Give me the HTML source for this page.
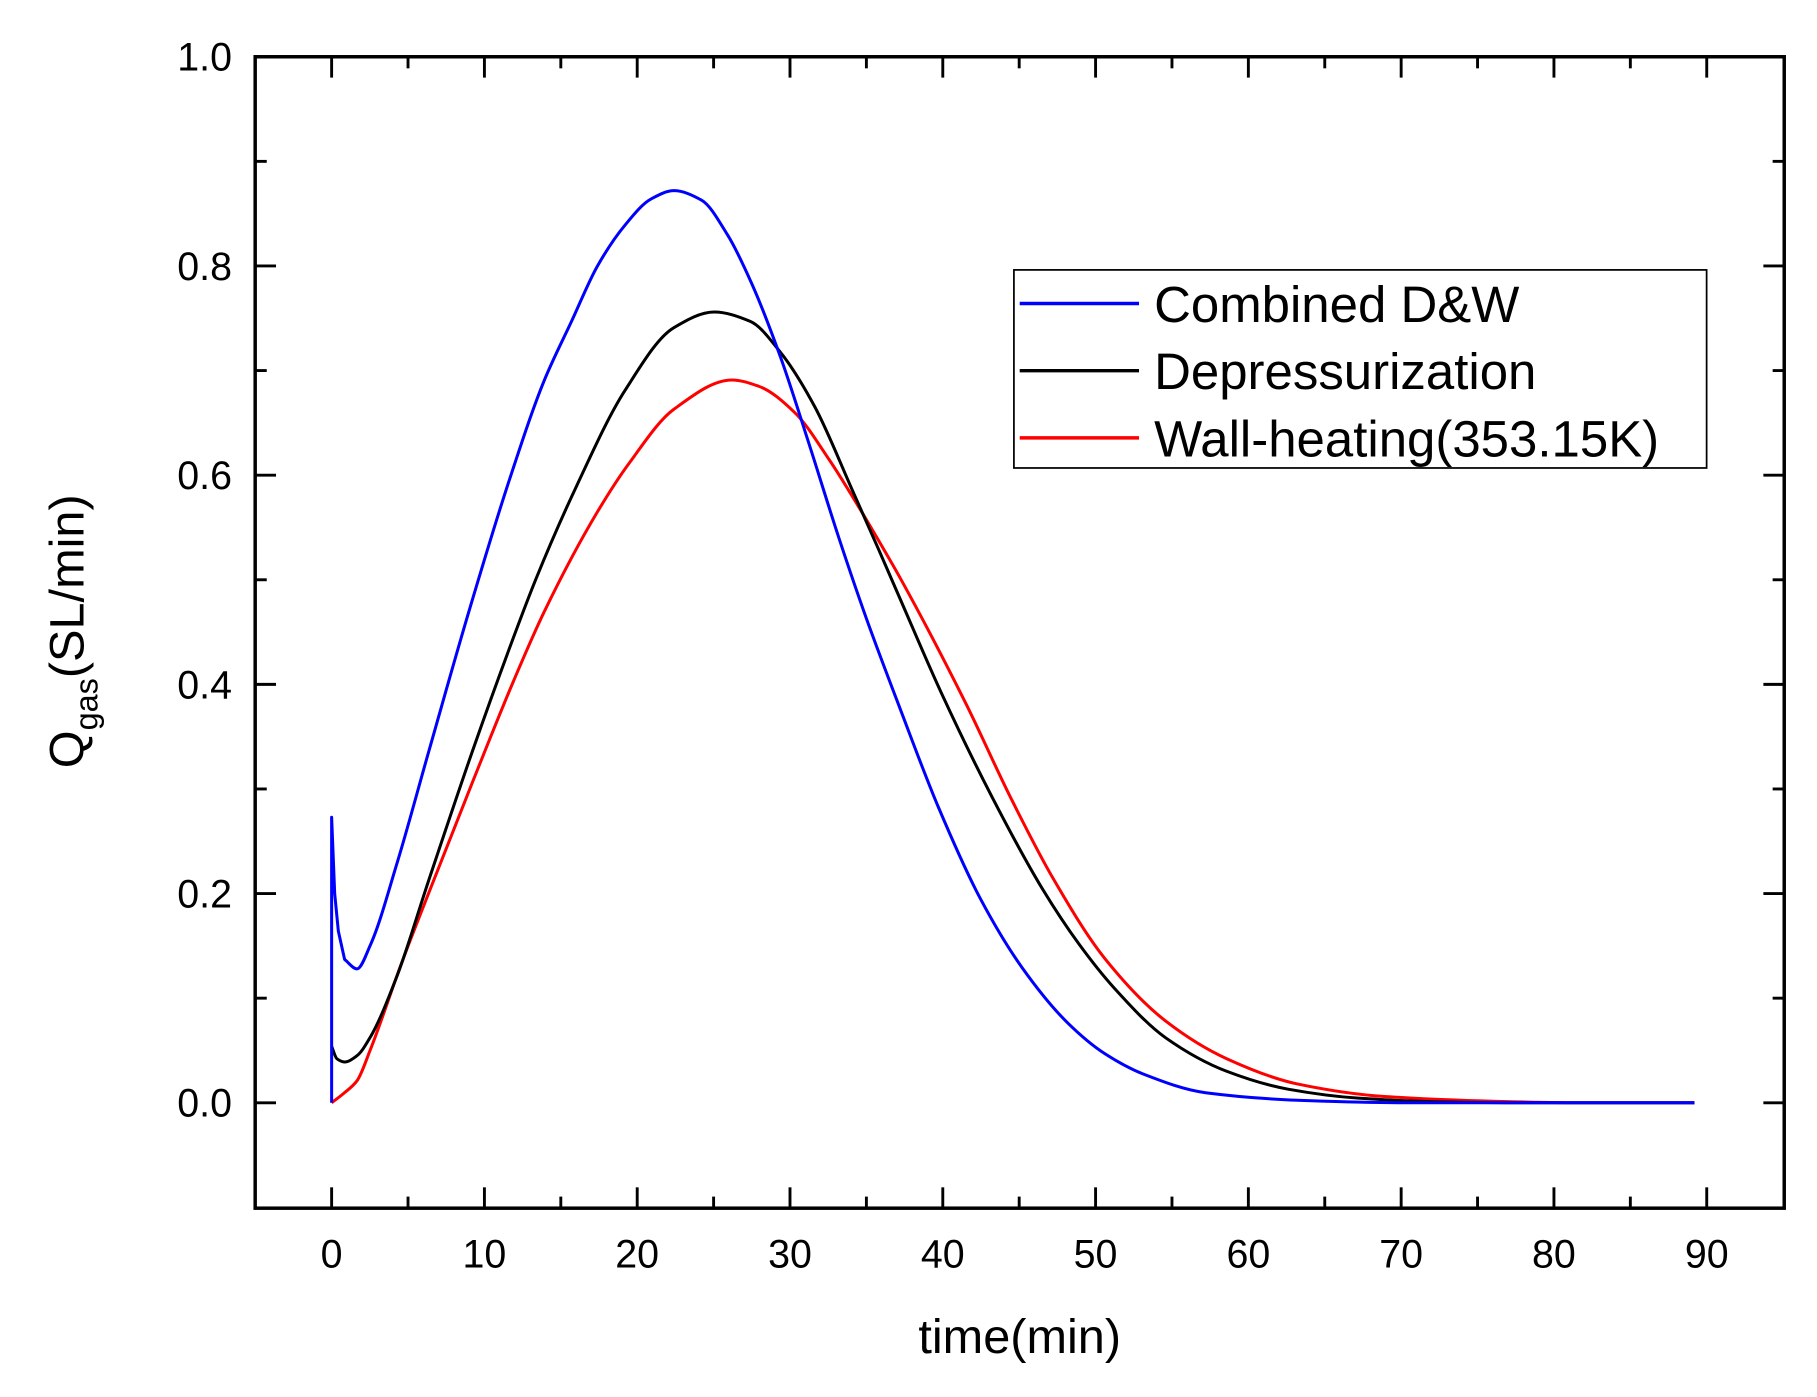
<!DOCTYPE html>
<html><head><meta charset="utf-8"><style>
html,body{margin:0;padding:0;background:#fff}
svg{display:block}
text{font-family:"Liberation Sans",Arial,sans-serif;fill:#000}
</style></head><body>
<svg id="s" width="1817" height="1397" viewBox="0 0 1568 1206" xmlns="http://www.w3.org/2000/svg">
<rect x="0" y="0" width="1568" height="1206" fill="#fff"/>
<g id="ticks" stroke="#000" stroke-width="2.5"></g>
<g id="curves" fill="none" stroke-width="2.6" stroke-linejoin="round"></g>
<rect x="220" y="49" width="1320" height="994" fill="none" stroke="#000" stroke-width="3"/>
<g id="labels" font-size="34"></g>
<text x="880" y="1168" font-size="42" text-anchor="middle">time(min)</text>
<text transform="translate(72,545) rotate(-90)" font-size="42" text-anchor="middle">Q<tspan font-size="28" dy="12">gas</tspan><tspan dy="-12">(SL/min)</tspan></text>
<rect x="875" y="233" width="598" height="171" fill="#fff" stroke="#000" stroke-width="1.5"/>
<line x1="880" y1="262" x2="983" y2="262" stroke="#0000ff" stroke-width="3"/>
<line x1="880" y1="320" x2="983" y2="320" stroke="#000" stroke-width="3"/>
<line x1="880" y1="378" x2="983" y2="378" stroke="#ff0000" stroke-width="3"/>
<text x="996" y="278" font-size="44">Combined D&amp;W</text>
<text x="996" y="336" font-size="44">Depressurization</text>
<text x="996" y="394" font-size="44">Wall-heating(353.15K)</text>
</svg>
<script>
const X=t=>286+t*13.19, Y=v=>952-v*903;
const NS="http://www.w3.org/2000/svg";
const tk=document.getElementById('ticks'), lb=document.getElementById('labels');
function L(x1,y1,x2,y2){const l=document.createElementNS(NS,'line');l.setAttribute('x1',x1);l.setAttribute('y1',y1);l.setAttribute('x2',x2);l.setAttribute('y2',y2);tk.appendChild(l);}
function T(x,y,s,a){const t=document.createElementNS(NS,'text');t.setAttribute('x',x);t.setAttribute('y',y);t.setAttribute('text-anchor',a);t.textContent=s;lb.appendChild(t);}
for(let t=-5;t<=95;t+=5){const x=X(t);const big=t%10===0;const len=big?18:10;
 if(t>-5&&t<95){L(x,1043,x,1043-len);L(x,49,x,49+len);}
 if(big&&t>=0&&t<=90)T(x,1094,String(t),'middle');}
for(let i=-1;i<=10;i++){const v=i/10, y=Y(v);const big=i%2===0;const len=big?18:10;
 if(i>-1&&i<10){L(220,y,220+len,y);L(1540,y,1540-len,y);}
 if(big&&i>=0)T(200,y+12,v.toFixed(1),'end');}
const data={
"#0000ff":{pre:[[0,0],[0,0.273],[0.2,0.2],[0.44,0.164],[0.85,0.137]],
 pts:[[0.85,0.137],[1.66,0.128],[2.54,0.151],[4.3,0.23],[6.34,0.335],[8.97,0.469],[11.6,0.594],[13.9,0.69],[15.7,0.747],[17.4,0.8],[19.2,0.839],[20.9,0.864],[22.4,0.872],[24.2,0.863],[25.9,0.83],[27.5,0.783],[29.4,0.712],[31.2,0.632],[33.2,0.540],[35,0.463],[37.2,0.377],[39.7,0.283],[42.5,0.194],[45.2,0.129],[48.2,0.076],[50.6,0.047],[53.2,0.027],[57.2,0.0096],[63.9,0.002],[70,0],[89.2,0]]},
"#000000":{pre:[[0,0.054]],
 pts:[[0,0.054],[0.35,0.042],[0.85,0.039],[1.66,0.045],[2.54,0.063],[4.3,0.122],[6.34,0.212],[9.26,0.338],[11.6,0.433],[13.35,0.5],[15.98,0.588],[19.2,0.681],[22.4,0.741],[25.03,0.756],[27.4,0.747],[29.4,0.717],[31.6,0.666],[34.1,0.585],[35.8,0.529],[37.2,0.482],[39.9,0.392],[43.2,0.293],[46.5,0.205],[48.9,0.152],[51.2,0.11],[54.6,0.062],[58.6,0.03],[62.6,0.013],[67.2,0.0044],[72.2,0.001],[78,0],[89.2,0]]},
"#ff0000":{pre:[[0,0]],
 pts:[[0,0],[0.79,0.009],[1.66,0.021],[2.54,0.051],[4.59,0.134],[6.34,0.2],[9.26,0.308],[11.9,0.403],[13.9,0.469],[17.4,0.565],[19.5,0.612],[22.4,0.663],[26.2,0.691],[27.95,0.685],[30.3,0.66],[32.6,0.614],[34.4,0.572],[36.1,0.53],[37.2,0.502],[41.5,0.382],[44.5,0.29],[47.2,0.215],[50.6,0.138],[54.6,0.078],[58.6,0.042],[63.2,0.018],[68.9,0.006],[77.3,0.001],[82,0],[89.2,0]]}};
function mono(p){const n=p.length,d=[],m=[];
 for(let i=0;i<n-1;i++)d.push((p[i+1][1]-p[i][1])/(p[i+1][0]-p[i][0]));
 m[0]=d[0];m[n-1]=d[n-2];
 for(let i=1;i<n-1;i++){if(d[i-1]*d[i]<=0)m[i]=0;else{const h0=p[i][0]-p[i-1][0],h1=p[i+1][0]-p[i][0];const w1=2*h1+h0,w2=h1+2*h0;m[i]=(w1+w2)/(w1/d[i-1]+w2/d[i]);}}
 let s="";
 for(let i=0;i<n-1;i++){const h=p[i+1][0]-p[i][0];
  const c1=[p[i][0]+h/3,p[i][1]+m[i]*h/3],c2=[p[i+1][0]-h/3,p[i+1][1]-m[i+1]*h/3];
  s+=" C"+X(c1[0])+","+Y(c1[1])+" "+X(c2[0])+","+Y(c2[1])+" "+X(p[i+1][0])+","+Y(p[i+1][1]);}
 return s;}
const cg=document.getElementById('curves');
for(const c of ["#ff0000","#000000","#0000ff"]){const D=data[c];
 let d="M"+X(D.pre[0][0])+","+Y(D.pre[0][1]);
 for(let i=1;i<D.pre.length;i++)d+=" L"+X(D.pre[i][0])+","+Y(D.pre[i][1]);
 d+=mono(D.pts);
 const e=document.createElementNS(NS,'path');e.setAttribute('d',d);e.setAttribute('stroke',c);cg.appendChild(e);}
</script>
</body></html>
